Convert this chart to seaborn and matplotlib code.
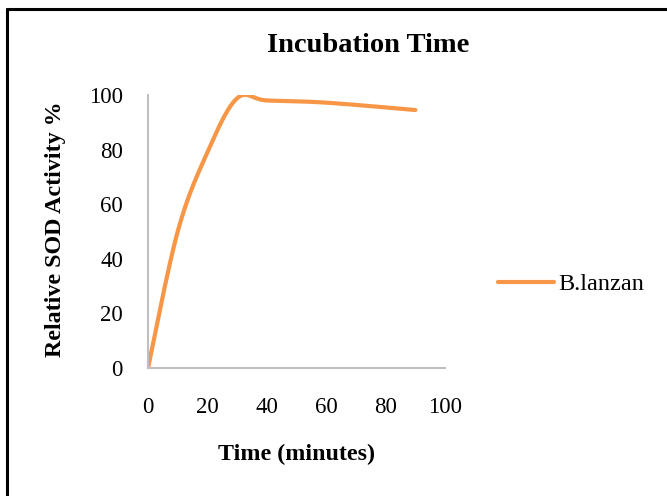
import numpy as np
import pandas as pd
import seaborn as sns
import matplotlib
matplotlib.use("Agg")
import matplotlib.pyplot as plt
from matplotlib.lines import Line2D

# Data
time_min = [0, 10, 20, 30, 40, 60, 90]
activity = [0, 50, 79, 98.8, 98, 97.2, 94.5]
series_name = "B.lanzan"
x_ticks = [0, 20, 40, 60, 80, 100]
y_ticks = [0, 20, 40, 60, 80, 100]


def excel_smooth(xs, ys, n=40):
    """Excel-style smoothed line (Bezier, tension 1/6) through the data points."""
    xs = np.asarray(xs, float)
    ys = np.asarray(ys, float)
    pts = np.column_stack([xs, ys])
    out = []
    m = len(pts)
    for i in range(m - 1):
        p0 = pts[i]
        p3 = pts[i + 1]
        pm = pts[i - 1] if i > 0 else pts[i]
        pp = pts[i + 2] if i + 2 < m else pts[i + 1]
        c1 = p0 + (p3 - pm) / 6.0
        c2 = p3 - (pp - p0) / 6.0
        t = np.linspace(0, 1, n, endpoint=(i == m - 2))[:, None]
        b = ((1 - t) ** 3) * p0 + 3 * ((1 - t) ** 2) * t * c1 + 3 * (1 - t) * t ** 2 * c2 + t ** 3 * p3
        out.append(b)
    arr = np.vstack(out)
    return arr[:, 0], arr[:, 1]


sx, sy = excel_smooth(time_min, activity)
df = pd.DataFrame({"Time": sx, "Activity": sy, "Series": series_name})

sns.set_theme(style="white")
plt.rcParams["font.family"] = ["Liberation Serif", "DejaVu Serif"]
plt.rcParams["text.color"] = "black"
plt.rcParams["xtick.color"] = "black"
plt.rcParams["ytick.color"] = "black"
plt.rcParams["axes.labelcolor"] = "black"

orange = "#F79646"

fig = plt.figure(figsize=(6.67, 4.96), dpi=100)
ax = fig.add_axes([148 / 667, 1 - 368 / 496, 297 / 667, 273 / 496])

sns.lineplot(data=df, x="Time", y="Activity", hue="Series", palette=[orange],
             linewidth=3, sort=False, ax=ax, legend=False)

ax.set_xlim(0, 100)
ax.set_ylim(0, 100)
ax.set_xticks(x_ticks)
ax.set_yticks(y_ticks)
ax.tick_params(axis="x", length=0, pad=21, labelsize=16.5)
ax.tick_params(axis="y", length=0, pad=18, labelsize=16.5)
for s in ["top", "right"]:
    ax.spines[s].set_visible(False)
for s in ["left", "bottom"]:
    ax.spines[s].set_color("#BFBFBF")
    ax.spines[s].set_linewidth(1.5)

ax.set_xlabel("Time (minutes)", fontsize=17.3, fontweight="bold")
ax.set_ylabel("Relative SOD Activity %", fontsize=17.3, fontweight="bold")
ax.xaxis.label.set_va("center")
ax.yaxis.label.set_va("center")
ax.xaxis.set_label_coords((296 - 148) / 297, (368 - 454) / 273)
ax.yaxis.set_label_coords((56 - 148) / 297, (368 - 229) / 273)

fig.text(368 / 667, 1 - 46 / 496, "Incubation Time", ha="center", va="center",
         fontsize=20.5, fontweight="bold")

ax.legend(handles=[Line2D([0], [0], color=orange, lw=3)], labels=[series_name],
          loc="center left", bbox_to_anchor=(498 / 667, 1 - 284 / 496),
          bbox_transform=fig.transFigure, frameon=False, fontsize=17.5,
          handlelength=2.3, handletextpad=0.2, borderpad=0, borderaxespad=0)

# figure border (left and top edges visible)
fig.add_artist(Line2D([7 / 667, 7 / 667], [0, 1 - 8.5 / 496], color="black", lw=2.2,
                      transform=fig.transFigure))
fig.add_artist(Line2D([7 / 667, 1], [1 - 8.5 / 496, 1 - 8.5 / 496], color="black", lw=2.2,
                      transform=fig.transFigure))

fig.savefig("out.png", dpi=100)
